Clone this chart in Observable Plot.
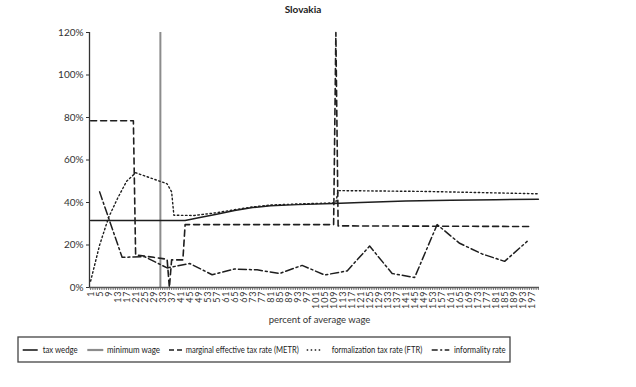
<!DOCTYPE html>
<html>
<head>
<meta charset="utf-8">
<script src="https://cdn.jsdelivr.net/npm/d3@7"></script>
<script src="https://cdn.jsdelivr.net/npm/@observablehq/plot@0.6"></script>
<style>
  html, body { margin: 0; padding: 0; background: #fff; }
  #wrap { position: relative; width: 636px; height: 387px; background: #fff; font-family: Lato, "Open Sans", sans-serif; color: #222; }
  #title { position: absolute; top: 3px; left: 0; width: 606px; text-align: center; font-weight: bold; font-size: 10px; }
  #chart { position: absolute; top: 20px; left: 0; }
  #xlabel { position: absolute; top: 314px; left: 0; width: 639px; text-align: center; font-size: 9.5px; color: #333; }
  #legend { position: absolute; top: 0; left: 0; }
  g[aria-label="x-axis tick label"] text { letter-spacing: 0.9px; }
</style>
</head>
<body>
<div id="wrap">
  <div id="title">Slovakia</div>
  <div id="chart"></div>
  <div id="xlabel">percent of average wage</div>
  <svg id="legend" width="636" height="387"></svg>
</div>
<script>
// ---- data ----
const yTicks = [0, 20, 40, 60, 80, 100, 120];
const xLabelTicks = d3.range(1, 198, 4);      // 1, 5, 9, ..., 197
const xAllTicks = d3.range(1, 201);           // 1 .. 200

const minimumWage = 32;

const taxWedgeX = [1, 43, 49, 57, 65, 73, 81, 93, 109, 121, 141, 161, 181, 200];
const taxWedge  = [31.5, 31.5, 32.8, 34.5, 36.2, 37.6, 38.5, 39.0, 39.5, 40.0, 40.7, 41.1, 41.3, 41.5];

const metrX = [1, 20, 21, 25, 29, 33, 35, 36, 37, 42, 43, 109, 110, 111, 197];
const metr  = [78.5, 78.5, 15.3, 14.8, 14.2, 13.6, 13.3, 0, 13, 13, 29.6, 29.6, 120, 29, 28.7];

const ftrX = [1, 5, 9, 13, 17, 21, 35, 37, 38, 47, 57, 65, 73, 81, 93, 109, 110, 111, 150, 200];
const ftr  = [3, 20, 33, 42, 50, 54, 48.8, 45, 34, 33.9, 35.2, 36.6, 37.9, 38.8, 39.3, 39.8, 40, 45.6, 45.2, 44.1];

const infX = [5, 15, 25, 35, 45, 55, 65, 75, 85, 95, 105, 115, 125, 135, 145, 155, 165, 175, 185, 195];
const inf  = [45, 14.2, 14.5, 9.2, 11.3, 6, 8.7, 8.3, 6.6, 10.4, 5.9, 7.8, 19.5, 6.6, 4.7, 29.6, 20.8, 15.8, 12.3, 21.7];

const seriesNames = ["tax wedge", "minimum wage", "marginal effective tax rate (METR)", "formalization tax rate (FTR)", "informality rate"];

const toRows = (xs, ys) => xs.map((x, i) => ({x, y: ys[i]}));

const ink = "#1e1e1e";

const chart = Plot.plot({
  width: 636,
  height: 300,
  marginLeft: 89,
  marginRight: 97,
  marginTop: 12,
  marginBottom: 33,
  style: {fontFamily: "Lato, 'Open Sans', sans-serif", fontSize: "9.5px", color: "#333", background: "transparent"},
  x: {type: "linear", domain: [0.5, 200.5]},
  y: {domain: [0, 120]},
  marks: [
    Plot.ruleX([minimumWage], {y1: 0, y2: 120, stroke: "#8c8c8c", strokeWidth: 2}),
    Plot.line(toRows(taxWedgeX, taxWedge), {x: "x", y: "y", stroke: ink, strokeWidth: 1.5}),
    Plot.line(toRows(metrX, metr), {x: "x", y: "y", stroke: ink, strokeWidth: 1.6, strokeDasharray: "6,4"}),
    Plot.line(toRows(ftrX, ftr), {x: "x", y: "y", stroke: ink, strokeWidth: 1.4, strokeDasharray: "1.5,2.6"}),
    Plot.line(toRows(infX, inf), {x: "x", y: "y", stroke: ink, strokeWidth: 1.5, strokeDasharray: "8,3,2,3"}),
    Plot.axisY({ticks: yTicks, tickFormat: d => d + "%", tickSize: 3, tickPadding: 3, fontSize: 10, label: null, stroke: "#333"}),
    Plot.axisX({ticks: xAllTicks, tickSize: 3, tickFormat: () => "", label: null, stroke: "#777"}),
    Plot.axisX({ticks: xLabelTicks, tickSize: 0, tickPadding: 3, tickRotate: -90, fontSize: 9, label: null}),
    Plot.ruleY([0], {stroke: "#555", strokeWidth: 1.5}),
    Plot.ruleX([0.5], {y1: 0, y2: 120, stroke: "#333", strokeWidth: 1.3})
  ]
});
document.getElementById("chart").appendChild(chart);

// ---- legend ----
const lg = d3.select("#legend");
lg.append("rect").attr("x", 18).attr("y", 337).attr("width", 492).attr("height", 25)
  .attr("fill", "none").attr("stroke", "#444").attr("stroke-width", 1.3);
const items = [
  {x1: 22.7, x2: 37.7, tx: 42.7, len: 35, stroke: ink, w: 1.6, dash: null},
  {x1: 87.3, x2: 103.3, tx: 107, len: 53, stroke: "#8c8c8c", w: 2.2, dash: null},
  {x1: 169, x2: 182.3, tx: 185.7, len: 113, stroke: ink, w: 1.6, dash: "5,3"},
  {x1: 306.7, x2: 320.7, tx: 331.7, len: 90.5, stroke: ink, w: 1.4, dash: "1.5,2.5"},
  {x1: 431.7, x2: 449.3, tx: 454, len: 51.5, stroke: ink, w: 1.6, dash: "6,2.5,2,2.5"}
];
items.forEach((it, i) => {
  const l = lg.append("line").attr("x1", it.x1).attr("x2", it.x2).attr("y1", 350).attr("y2", 350)
    .attr("stroke", it.stroke).attr("stroke-width", it.w);
  if (it.dash) l.attr("stroke-dasharray", it.dash);
  lg.append("text").attr("x", it.tx).attr("y", 353).attr("font-size", 8.8)
    .attr("textLength", it.len).attr("lengthAdjust", "spacingAndGlyphs")
    .attr("font-family", "Lato, 'Open Sans', sans-serif").attr("fill", "#222").text(seriesNames[i]);
});
</script>
</body>
</html>
